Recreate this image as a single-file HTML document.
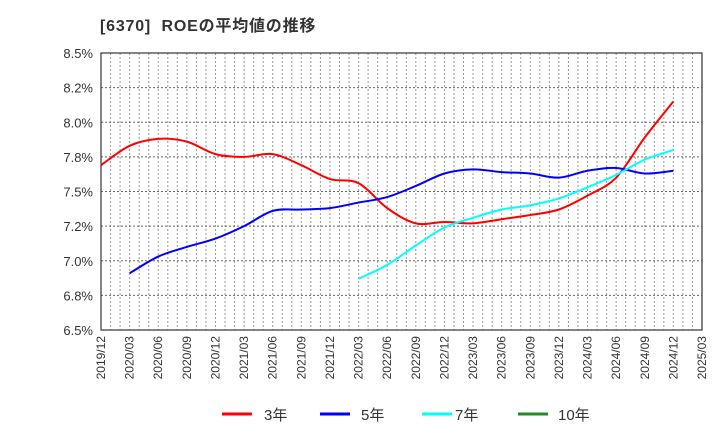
<!DOCTYPE html>
<html><head><meta charset="utf-8"><style>
body{margin:0;background:#fff;}
svg text{font-family:"Liberation Sans","Noto Sans CJK JP",sans-serif;}
</style></head><body>
<svg id="c" width="720" height="440" xmlns="http://www.w3.org/2000/svg">
<text x="100" y="31" font-size="16" font-weight="bold" letter-spacing="0.8" fill="#333" xml:space="preserve">[6370]  ROEの平均値の推移</text>
<g id="grid"></g><g id="axes"></g><g id="lines"></g>
<g>
<line x1="222" y1="414" x2="252" y2="414" stroke="#ff0000" stroke-width="3"/><text x="264" y="420" font-size="15" fill="#333">3年</text>
<line x1="320" y1="414" x2="350" y2="414" stroke="#0000ff" stroke-width="3"/><text x="361" y="420" font-size="15" fill="#333">5年</text>
<line x1="422" y1="414" x2="452" y2="414" stroke="#00ffff" stroke-width="3"/><text x="455" y="420" font-size="15" fill="#333">7年</text>
<line x1="518" y1="414" x2="548" y2="414" stroke="#228b22" stroke-width="3"/><text x="558" y="420" font-size="15" fill="#333">10年</text>
</g>
</svg>
<script>
const xLabels=["2019/12","2020/03","2020/06","2020/09","2020/12","2021/03","2021/06","2021/09","2021/12","2022/03","2022/06","2022/09","2022/12","2023/03","2023/06","2023/09","2023/12","2024/03","2024/06","2024/09","2024/12","2025/03"];
const yTicks=[6.5,6.75,7.0,7.25,7.5,7.75,8.0,8.25,8.5];
const yTickLabels=["6.5%","6.8%","7.0%","7.2%","7.5%","7.8%","8.0%","8.2%","8.5%"];
const roe3=[7.69,7.83,7.88,7.86,7.77,7.75,7.77,7.69,7.59,7.56,7.38,7.27,7.28,7.27,7.30,7.33,7.37,7.47,7.60,7.89,8.15];
const roe5=[null,6.91,7.03,7.10,7.16,7.25,7.36,7.37,7.38,7.42,7.46,7.54,7.63,7.66,7.64,7.63,7.60,7.65,7.67,7.63,7.65];
const roe7=[null,null,null,null,null,null,null,null,null,6.87,6.97,7.11,7.24,7.31,7.37,7.40,7.45,7.53,7.62,7.73,7.80];
const L=101,R=702,T=53,B=330;
const xs=i=>L+i*(R-L)/(xLabels.length-1);
const ys=v=>B-(v-6.5)/(8.5-6.5)*(B-T);
const NS="http://www.w3.org/2000/svg";
function mk(p,t,a){const e=document.createElementNS(NS,t);for(const k in a)e.setAttribute(k,a[k]);p.appendChild(e);return e;}
const g=document.getElementById('grid'),ax=document.getElementById('axes'),ln=document.getElementById('lines');
const months=(xLabels.length-1)*3;
for(let m=1;m<months;m++){const x=L+m*(R-L)/months;
const e=mk(g,'line',{x1:x,y1:T,x2:x,y2:B,stroke:'#999','stroke-dasharray':'2,2','stroke-width':1});

}
yTicks.forEach((v,i)=>{const y=ys(v);
if(i>0&&i<yTicks.length-1){const e=mk(g,'line',{x1:L,y1:y,x2:R,y2:y,stroke:'#666','stroke-dasharray':'2,2','stroke-width':1});

}
const t=mk(ax,'text',{x:L-8,y:y+5,'font-size':13,fill:'#333','text-anchor':'end'});t.textContent=yTickLabels[i];

});
const fr=mk(ax,'rect',{x:L,y:T,width:R-L,height:B-T,fill:'none',stroke:'#333','stroke-width':1.2});


xLabels.forEach((s,i)=>{const x=xs(i)+4;const t=mk(ax,'text',{x:x,y:336,'font-size':12,fill:'#333','text-anchor':'end',transform:`rotate(-90 ${x} 336)`});t.textContent=s;

});
function path(arr){const p=[];arr.forEach((v,i)=>{if(v!=null)p.push([xs(i),ys(v)]);});
let d=`M${p[0][0]},${p[0][1]}`;
for(let i=0;i<p.length-1;i++){const p0=p[i-1]||p[i],p1=p[i],p2=p[i+1],p3=p[i+2]||p2;
d+=` C${p1[0]+(p2[0]-p0[0])/6},${p1[1]+(p2[1]-p0[1])/6} ${p2[0]-(p3[0]-p1[0])/6},${p2[1]-(p3[1]-p1[1])/6} ${p2[0]},${p2[1]}`;}
return d;}
[[roe3,'#ff0000','line-3y'],[roe5,'#0000ff','line-5y'],[roe7,'#00ffff','line-7y']].forEach(([a,c,n])=>{
const e=mk(ln,'path',{d:path(a),fill:'none',stroke:c,'stroke-width':2});

});
</script>
</body></html>
